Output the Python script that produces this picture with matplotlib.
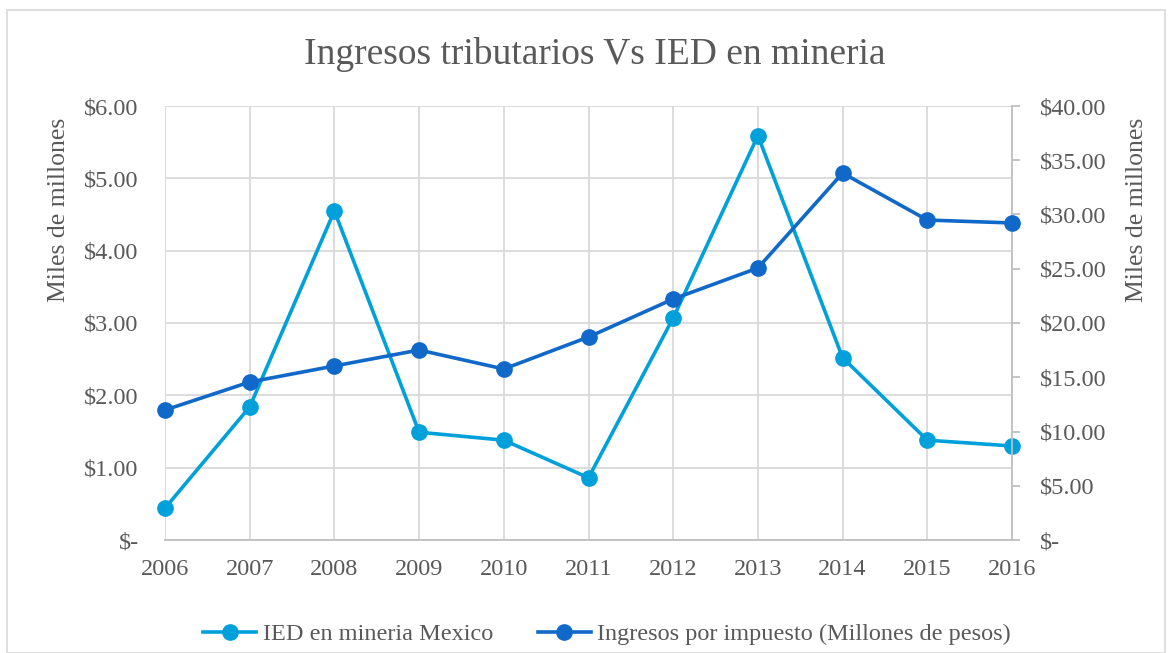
import matplotlib
matplotlib.use("Agg")
import matplotlib.pyplot as plt
from matplotlib.patches import Rectangle
from matplotlib.lines import Line2D

years = [2006, 2007, 2008, 2009, 2010, 2011, 2012, 2013, 2014, 2015, 2016]
ied = [0.44, 1.84, 4.55, 1.49, 1.38, 0.86, 3.07, 5.59, 2.52, 1.38, 1.30]
ingresos = [11.98, 14.56, 16.04, 17.51, 15.76, 18.71, 22.21, 25.07, 33.82, 29.49, 29.22]
left_ticks = [0, 1, 2, 3, 4, 5, 6]
right_ticks = [0, 5, 10, 15, 20, 25, 30, 35, 40]

title = "Ingresos tributarios Vs IED en mineria"
ylabel = "Miles de millones"
label_ied = "IED en mineria Mexico"
label_ing = "Ingresos por impuesto (Millones de pesos)"

c_ied = "#00A0DA"
c_ing = "#1069C9"
txt = "#595959"
grid = "#D9D9D9"
FS = 17.5

plt.rcParams['font.family'] = ['Liberation Serif', 'DejaVu Serif']

fig = plt.figure(figsize=(11.72, 6.53), dpi=100)
fig.patches.append(Rectangle((7/1172, 0), (1165-7)/1172, 1 - 10/653, transform=fig.transFigure,
                             fill=False, edgecolor=grid, linewidth=1.2))

ax = fig.add_axes([165/1172, 1 - 540/653, (1012-165)/1172, (540-106)/653])
ax2 = ax.twinx()

ax.set_xlim(2006, 2016)
ax.set_ylim(0, 6)
ax2.set_ylim(0, 40)

ax.set_xticks(years)
ax.set_xticklabels([str(y) for y in years])
ax.set_yticks(left_ticks)
ax.set_yticklabels(["$-" if v == 0 else f"${v:.2f}" for v in left_ticks])
ax2.set_yticks(right_ticks)
ax2.set_yticklabels(["$-" if v == 0 else f"${v:.2f}" for v in right_ticks])

ax.grid(True, color=grid, linewidth=1.3)
ax.set_axisbelow(True)
for a in (ax, ax2):
    for s in a.spines.values():
        s.set_visible(False)
ax2.spines['right'].set_visible(True)
ax2.spines['right'].set_color("#BFBFBF")
ax2.spines['right'].set_linewidth(1.3)
ax.spines['bottom'].set_visible(True)
ax.spines['bottom'].set_color("#BFBFBF")
ax.spines['bottom'].set_linewidth(1.3)

ax.tick_params(axis='x', length=0, labelsize=FS, labelcolor=txt, pad=14)
ax.tick_params(axis='y', length=0, labelsize=FS, labelcolor=txt, pad=19)
ax2.tick_params(axis='y', length=6, width=1.3, color="#BFBFBF", labelsize=FS, labelcolor=txt, pad=14)

ax.plot(years, ied, color=c_ied, linewidth=2.6, marker='o', markersize=11, zorder=3, clip_on=False)
ax2.plot(years, ingresos, color=c_ing, linewidth=2.6, marker='o', markersize=11, zorder=3, clip_on=False)

fig.text(59/1172, 1 - 210/653, ylabel, rotation=90, ha='center', va='center', fontsize=18.5, color=txt)
fig.text(1137/1172, 1 - 210/653, ylabel, rotation=90, ha='center', va='center', fontsize=18.5, color=txt)

fig.text(595/1172, 1 - 55/653, title, ha='center', va='center', fontsize=27, color=txt)

handles = [Line2D([0], [0], color=c_ied, lw=2.6, marker='o', markersize=11),
           Line2D([0], [0], color=c_ing, lw=2.6, marker='o', markersize=11)]
fig.legend(handles, [label_ied, label_ing], loc='center', bbox_to_anchor=(607/1172, 1 - 634/653),
           ncol=2, frameon=False, fontsize=FS, labelcolor=txt, handlelength=2.2,
           columnspacing=1.85, handletextpad=0.25)

fig.savefig("out.png", dpi=100)
